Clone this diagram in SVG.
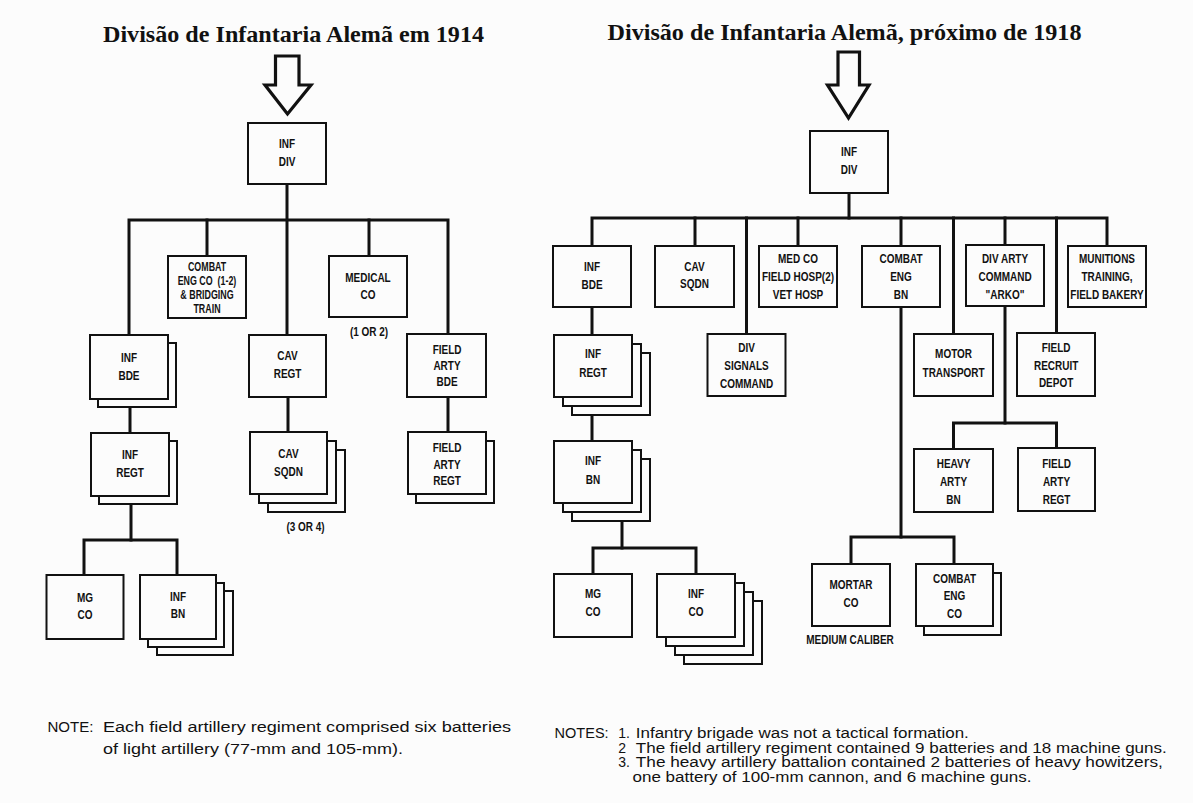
<svg xmlns="http://www.w3.org/2000/svg" width="1193" height="803" viewBox="0 0 1193 803">
<style>
.bg{fill:#fcfcfc}
.box{fill:#fcfcfc;stroke:#111;stroke-width:2}
.ln{stroke:#111;stroke-width:3;fill:none;stroke-linejoin:miter;stroke-linecap:square}
.arr{fill:#fcfcfc;stroke:#111;stroke-width:3.2;stroke-linejoin:miter}
.title{font-family:"Liberation Serif","Times New Roman",serif;font-weight:bold;font-size:23px;fill:#111;text-anchor:middle}
.t{font-family:"Liberation Sans",Arial,sans-serif;font-weight:bold;font-size:13.5px;text-anchor:middle;fill:#111;transform-box:fill-box;transform-origin:center;transform:scaleX(0.74)}
.s{font-size:12px}
.note{font-family:"Liberation Sans",Arial,sans-serif;font-size:15.5px;fill:#111}
.note2{font-family:"Liberation Sans",Arial,sans-serif;font-size:14px;fill:#111}
</style>
<rect class="bg" x="0" y="0" width="1193" height="803"/>

<text class="title" x="293.5" y="42" textLength="381" lengthAdjust="spacingAndGlyphs">Divisão de Infantaria Alemã em 1914</text>
<text class="title" x="844.5" y="40" textLength="474" lengthAdjust="spacingAndGlyphs">Divisão de Infantaria Alemã, próximo de 1918</text>

<g id="arrows">
<polygon class="arr" points="275.5,56 299,56 299,85 311,85 287.5,114 265,85 275.5,85"/>
<polygon class="arr" points="838,52 859.5,52 859.5,85 869,85 848.5,118 827.5,85 838,85"/>
</g>

<g id="connectors">
<path class="ln" d="M287,184 V335"/>
<path class="ln" d="M129,335 V220 H448 V334"/>
<path class="ln" d="M207,220 V256"/>
<path class="ln" d="M369,220 V256"/>
<path class="ln" d="M130,399 V433"/>
<path class="ln" d="M288,397 V432"/>
<path class="ln" d="M448,397 V432"/>
<path class="ln" d="M131,496 V540"/>
<path class="ln" d="M84,575 V540 H177 V575"/>

<path class="ln" d="M849,193 V218"/>
<path class="ln" d="M592,246 V218 H1107 V246"/>
<path class="ln" d="M695,218 V246"/>
<path class="ln" d="M746.5,218 V334"/>
<path class="ln" d="M798,218 V246"/>
<path class="ln" d="M901,218 V246"/>
<path class="ln" d="M953.5,218 V334"/>
<path class="ln" d="M1005,218 V245"/>
<path class="ln" d="M1056.5,218 V333"/>
<path class="ln" d="M592,307 V335"/>
<path class="ln" d="M592,397 V441"/>
<path class="ln" d="M622,503 V548"/>
<path class="ln" d="M593,574 V548 H696 V574"/>
<path class="ln" d="M901,307 V537"/>
<path class="ln" d="M851,564 V537 H954 V564"/>
<path class="ln" d="M1005,306 V423"/>
<path class="ln" d="M953.5,449 V423 H1056.5 V448"/>
</g>

<!-- Left chart (1914) -->
<g id="l-inf-div">
<rect class="box" x="248" y="123" width="78" height="61"/>
<text class="t" x="287" y="148">INF</text>
<text class="t" x="287" y="166">DIV</text>
</g>
<g id="l-combat-eng">
<rect class="box" x="168" y="256" width="78" height="62"/>
<text class="t s" x="207" y="271.5">COMBAT</text>
<text class="t s" x="207" y="285.5">ENG CO&#160;&#160;(1-2)</text>
<text class="t s" x="207" y="299.5">&amp; BRIDGING</text>
<text class="t s" x="207" y="313">TRAIN</text>
</g>
<g id="l-medical">
<rect class="box" x="329" y="256" width="78" height="61"/>
<text class="t" x="368" y="282">MEDICAL</text>
<text class="t" x="368" y="299">CO</text>
<text class="t" x="369" y="336">(1 OR 2)</text>
</g>
<g id="l-inf-bde">
<rect class="box" x="98" y="343" width="78" height="64"/>
<rect class="box" x="90" y="335" width="78" height="64"/>
<text class="t" x="129" y="362">INF</text>
<text class="t" x="129" y="380">BDE</text>
</g>
<g id="l-cav-regt">
<rect class="box" x="249" y="335" width="77" height="62"/>
<text class="t" x="287.5" y="360">CAV</text>
<text class="t" x="287.5" y="378">REGT</text>
</g>
<g id="l-field-arty-bde">
<rect class="box" x="407" y="334" width="79" height="63"/>
<text class="t" x="447" y="354">FIELD</text>
<text class="t" x="447" y="370">ARTY</text>
<text class="t" x="447" y="386">BDE</text>
</g>
<g id="l-inf-regt">
<rect class="box" x="99" y="441" width="78" height="63"/>
<rect class="box" x="91" y="433" width="78" height="63"/>
<text class="t" x="130" y="459">INF</text>
<text class="t" x="130" y="477">REGT</text>
</g>
<g id="l-cav-sqdn">
<rect class="box" x="268" y="450" width="77" height="62"/>
<rect class="box" x="259" y="441" width="77" height="62"/>
<rect class="box" x="250" y="432" width="77" height="62"/>
<text class="t" x="288.5" y="458">CAV</text>
<text class="t" x="288.5" y="476">SQDN</text>
<text class="t" x="305.5" y="531">(3 OR 4)</text>
</g>
<g id="l-field-arty-regt">
<rect class="box" x="416" y="441" width="78" height="62"/>
<rect class="box" x="408" y="432" width="78" height="62"/>
<text class="t" x="447" y="452">FIELD</text>
<text class="t" x="447" y="469">ARTY</text>
<text class="t" x="447" y="485">REGT</text>
</g>
<g id="l-mg-co">
<rect class="box" x="46.5" y="575" width="77" height="64"/>
<text class="t" x="85" y="602">MG</text>
<text class="t" x="85" y="619">CO</text>
</g>
<g id="l-inf-bn">
<rect class="box" x="157" y="591" width="76" height="64"/>
<rect class="box" x="148" y="583" width="76" height="64"/>
<rect class="box" x="140" y="575" width="76" height="64"/>
<text class="t" x="178" y="601">INF</text>
<text class="t" x="178" y="618">BN</text>
</g>

<!-- Right chart (1918) -->
<g id="r-inf-div">
<rect class="box" x="810" y="131" width="78" height="62"/>
<text class="t" x="849" y="156">INF</text>
<text class="t" x="849" y="174">DIV</text>
</g>
<g id="r-inf-bde">
<rect class="box" x="553" y="246" width="78" height="61"/>
<text class="t" x="592" y="271">INF</text>
<text class="t" x="592" y="289">BDE</text>
</g>
<g id="r-cav-sqdn">
<rect class="box" x="655" y="246" width="79" height="61"/>
<text class="t" x="694.5" y="271">CAV</text>
<text class="t" x="694.5" y="288">SQDN</text>
</g>
<g id="r-med">
<rect class="box" x="759" y="246" width="78" height="61"/>
<text class="t" x="798" y="263">MED CO</text>
<text class="t" x="798" y="281">FIELD HOSP(2)</text>
<text class="t" x="798" y="299">VET HOSP</text>
</g>
<g id="r-combat-eng-bn">
<rect class="box" x="862" y="246" width="78" height="61"/>
<text class="t" x="901" y="263">COMBAT</text>
<text class="t" x="901" y="281">ENG</text>
<text class="t" x="901" y="299">BN</text>
</g>
<g id="r-div-arty">
<rect class="box" x="966" y="245" width="78" height="61"/>
<text class="t" x="1005" y="263">DIV ARTY</text>
<text class="t" x="1005" y="281">COMMAND</text>
<text class="t" x="1005" y="299">"ARKO"</text>
</g>
<g id="r-munitions">
<rect class="box" x="1068" y="246" width="78" height="61"/>
<text class="t" x="1107" y="263">MUNITIONS</text>
<text class="t" x="1107" y="281">TRAINING,</text>
<text class="t" x="1107" y="299">FIELD BAKERY</text>
</g>
<g id="r-inf-regt">
<rect class="box" x="572" y="353" width="78" height="62"/>
<rect class="box" x="563" y="344" width="78" height="62"/>
<rect class="box" x="554" y="335" width="78" height="62"/>
<text class="t" x="593" y="358">INF</text>
<text class="t" x="593" y="377">REGT</text>
</g>
<g id="r-div-signals">
<rect class="box" x="707.5" y="334" width="78" height="62"/>
<text class="t" x="746.5" y="352">DIV</text>
<text class="t" x="746.5" y="370">SIGNALS</text>
<text class="t" x="746.5" y="388">COMMAND</text>
</g>
<g id="r-motor">
<rect class="box" x="914" y="334" width="79" height="62"/>
<text class="t" x="953.5" y="358">MOTOR</text>
<text class="t" x="953.5" y="377">TRANSPORT</text>
</g>
<g id="r-recruit">
<rect class="box" x="1017" y="333" width="78" height="63"/>
<text class="t" x="1056" y="352">FIELD</text>
<text class="t" x="1056" y="370">RECRUIT</text>
<text class="t" x="1056" y="387">DEPOT</text>
</g>
<g id="r-inf-bn">
<rect class="box" x="572" y="459" width="78" height="62"/>
<rect class="box" x="563" y="450" width="78" height="62"/>
<rect class="box" x="554" y="441" width="78" height="62"/>
<text class="t" x="593" y="465">INF</text>
<text class="t" x="593" y="484">BN</text>
</g>
<g id="r-heavy-arty">
<rect class="box" x="914" y="449" width="79" height="63"/>
<text class="t" x="953.5" y="468">HEAVY</text>
<text class="t" x="953.5" y="486">ARTY</text>
<text class="t" x="953.5" y="504">BN</text>
</g>
<g id="r-field-arty-regt">
<rect class="box" x="1018" y="448" width="77" height="63"/>
<text class="t" x="1056.5" y="468">FIELD</text>
<text class="t" x="1056.5" y="486">ARTY</text>
<text class="t" x="1056.5" y="504">REGT</text>
</g>
<g id="r-mg-co">
<rect class="box" x="554" y="574" width="78" height="63"/>
<text class="t" x="593" y="598">MG</text>
<text class="t" x="593" y="616">CO</text>
</g>
<g id="r-inf-co">
<rect class="box" x="684" y="601" width="78" height="63"/>
<rect class="box" x="675" y="592" width="78" height="63"/>
<rect class="box" x="666" y="583" width="78" height="63"/>
<rect class="box" x="657" y="574" width="78" height="63"/>
<text class="t" x="696" y="598">INF</text>
<text class="t" x="696" y="616">CO</text>
</g>
<g id="r-mortar">
<rect class="box" x="812" y="564" width="78" height="62"/>
<text class="t" x="851" y="589">MORTAR</text>
<text class="t" x="851" y="607">CO</text>
<text class="t" x="850" y="644">MEDIUM CALIBER</text>
</g>
<g id="r-combat-eng-co">
<rect class="box" x="924" y="573" width="77" height="62"/>
<rect class="box" x="916" y="564" width="77" height="62"/>
<text class="t" x="954.5" y="583">COMBAT</text>
<text class="t" x="954.5" y="600">ENG</text>
<text class="t" x="954.5" y="618">CO</text>
</g>

<g id="notes">
<text class="note" x="47.5" y="732" textLength="46" lengthAdjust="spacingAndGlyphs">NOTE:</text>
<text class="note" x="103" y="732" textLength="408" lengthAdjust="spacingAndGlyphs">Each field artillery regiment comprised six batteries</text>
<text class="note" x="103" y="753.5" textLength="300" lengthAdjust="spacingAndGlyphs">of light artillery (77-mm and 105-mm).</text>

<text class="note2" x="554.6" y="738" textLength="54" lengthAdjust="spacingAndGlyphs">NOTES:</text>
<text class="note2" x="618.3" y="738">1.</text>
<text class="note2" x="635.8" y="738" textLength="333" lengthAdjust="spacingAndGlyphs">Infantry brigade was not a tactical formation.</text>
<text class="note2" x="618.3" y="752.7">2</text>
<text class="note2" x="635.8" y="752.7" textLength="531" lengthAdjust="spacingAndGlyphs">The field artillery regiment contained 9 batteries and 18 machine guns.</text>
<text class="note2" x="618.3" y="767.3">3.</text>
<text class="note2" x="635.8" y="767.3" textLength="527" lengthAdjust="spacingAndGlyphs">The heavy artillery battalion contained 2 batteries of heavy howitzers,</text>
<text class="note2" x="632.5" y="781.7" textLength="399" lengthAdjust="spacingAndGlyphs">one battery of 100-mm cannon, and 6 machine guns.</text>
</g>
</svg>
